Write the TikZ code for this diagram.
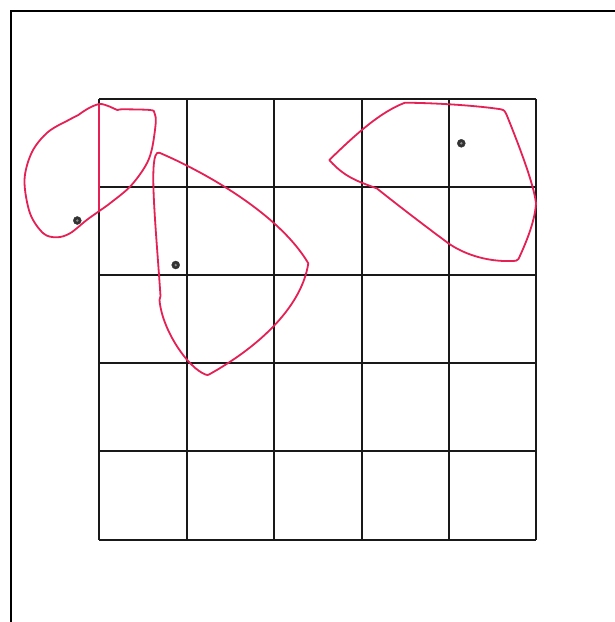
\documentclass[tikz,border=0pt]{standalone}
\definecolor{shapered}{RGB}{228,32,84}
\definecolor{gridcol}{RGB}{25,25,25}
\tikzset{
  gridline/.style={draw=gridcol, line width=1.8pt},
  blob/.style={draw=shapered, line width=1.8pt, line join=round, line cap=round},
  seed/.style={circle, fill=black!80, draw=black!80, minimum size=8pt, inner sep=0pt},
}
\begin{document}
\begin{tikzpicture}[x=1pt,y=-1pt]
\useasboundingbox (0,0) rectangle (615,622);
\fill[white] (0,0) rectangle (615,622);
% frame
\draw[line width=1.8pt] (11,622) -- (11,11) -- (615,11);
% grid
\foreach \x in {99,187,274,362,449,536} \draw[gridline] (\x,99) -- (\x,540);
\foreach \y in {99,187,275,363,451,540} \draw[gridline] (99,\y) -- (536,\y);
% left shape
\draw[blob] plot[smooth cycle, tension=0.55] coordinates {
 (99.3,104) (110,106.7) (117.3,110) (122,109.3) (150,110) (154.5,113)
 (155.7,123.3) (151.7,150) (145,166.7) (130,186.7) (110,203.3) (98.3,211.7)
 (86.7,220) (70,233.3) (56.7,237.3) (43.3,233.3) (30,213.3) (24.5,180)
 (32,152) (48,132) (70,119.3) (78.3,115) (86.7,109.3)};
\draw[blob] (99.3,104) -- (99.3,211.7);
% middle shape
\draw[blob] (159.3,152.7) .. controls (200,170) and (278,212) .. (308.3,263.3)
  .. controls (302,305) and (262,345) .. (209,374.5)
  .. controls (208,375.2) and (207,375.2) .. (205.5,374.5)
  .. controls (188,368) and (162,330) .. (159.5,300)
  -- (160.5,296)
  .. controls (156,230) and (150,170) .. (155.5,155.5)
  .. controls (156.5,153) and (157.5,152.5) .. cycle;
% right shape
\draw[blob] (329.3,160) .. controls (355,135) and (380,112) .. (405,102.7)
  .. controls (440,103) and (480,106) .. (501,109.3)
  .. controls (504.5,110) and (505.5,112) .. (506.5,114.5)
  .. controls (520,148) and (534,185) .. (536,203.3)
  .. controls (535,222) and (525,245) .. (518.5,259)
  .. controls (517.5,261) and (515,261) .. (512,261)
  .. controls (485,262) and (462,253) .. (448,243)
  .. controls (425,226) and (395,203) .. (377,188.5)
  .. controls (360,182) and (345,178) .. cycle;
% seeds
\node[seed] (s1) at (77.3,220.5) {};
\node[seed] (s2) at (175.7,265) {};
\node[seed] (s3) at (461.3,143.3) {};
\foreach \s in {s1,s2,s3} \fill[black!45] (\s) circle (1.3pt);
\end{tikzpicture}
\end{document}
